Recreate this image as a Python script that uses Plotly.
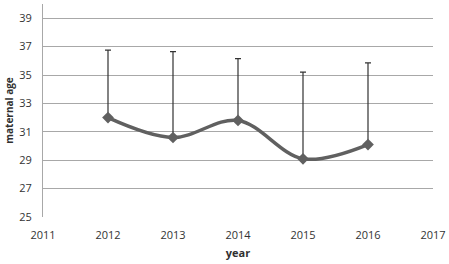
import plotly.graph_objects as go

years = [2012, 2013, 2014, 2015, 2016]
mean_age = [32.0, 30.6, 31.8, 29.1, 30.1]
upper_err = [4.75, 6.05, 4.35, 6.1, 5.75]
y_ticks = [25, 27, 29, 31, 33, 35, 37, 39]
x_ticks = [2011, 2012, 2013, 2014, 2015, 2016, 2017]

fig = go.Figure()
fig.add_trace(go.Scatter(
    x=years, y=mean_age, mode="lines+markers",
    line=dict(color="#606060", width=3.5, shape="spline", smoothing=1.0),
    marker=dict(symbol="diamond", size=9, color="#606060"),
    error_y=dict(type="data", symmetric=False, array=upper_err,
                 arrayminus=[0]*len(years), color="#333333", thickness=1.2, width=3),
    showlegend=False,
))

fig.update_layout(
    width=449, height=264,
    margin=dict(l=43, r=16, t=4, b=47),
    paper_bgcolor="white", plot_bgcolor="white",
    font=dict(family="Open Sans, DejaVu Sans, sans-serif", size=11, color="#404040"),
)
fig.update_xaxes(
    range=[2011, 2017], tickvals=x_ticks, ticktext=[str(t) for t in x_ticks],
    showgrid=False, zeroline=False, showline=False,
    ticks="", tickfont=dict(size=11, color="#333333"),
    ticklabelstandoff=10, ticklabeloverflow="allow",
    title=dict(text="<b>year</b>", font=dict(size=11, color="#303030"), standoff=8),
)
fig.update_yaxes(
    range=[25, 40], tickvals=y_ticks, showgrid=True, gridcolor="#a8a8a8", gridwidth=1,
    zeroline=False, showline=True, linecolor="#a8a8a8", linewidth=1,
    ticks="", tickfont=dict(size=11, color="#333333"), ticklabelstandoff=8,
    title=dict(text="<b>maternal age</b>", font=dict(size=10, color="#303030"), standoff=3),
)
fig.write_html("out.html", config={"displayModeBar": False},
               post_script="document.body.style.margin='0';document.body.style.overflow='hidden';")
